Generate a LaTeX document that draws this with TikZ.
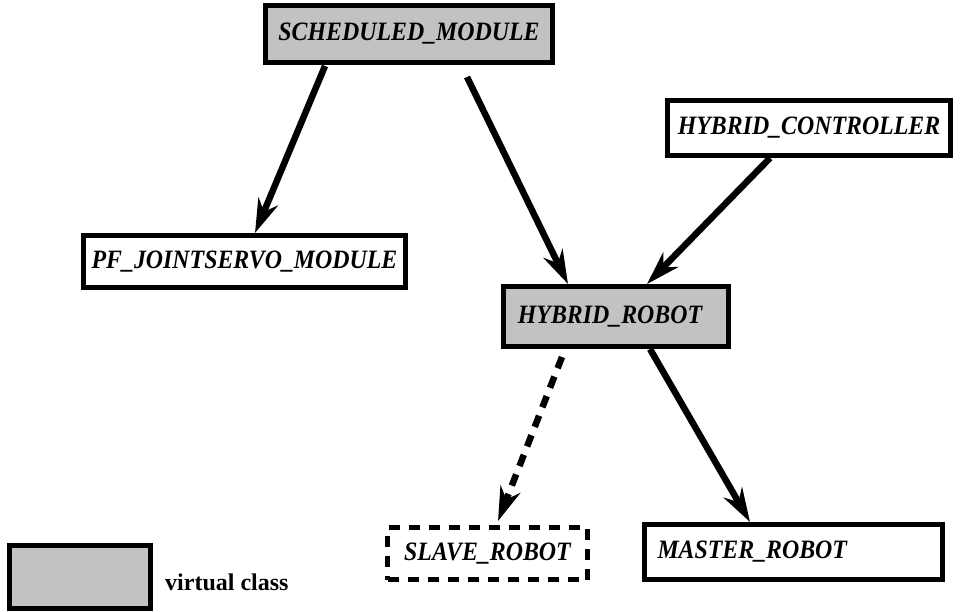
\documentclass[tikz,border=0pt]{standalone}
\usepackage{fontspec}
\setmainfont{Liberation Serif}
\newfontfamily\classfont[FakeStretch=0.9]{Liberation Serif}
\usetikzlibrary{arrows.meta}
\begin{document}
\begin{tikzpicture}[x=1pt,y=-1pt,
  classbox/.style={draw=black, line width=5pt, inner sep=0pt, fill=white,
    font=\classfont\fontsize{26.5}{26.5}\selectfont\bfseries\itshape},
  virtualbox/.style={classbox, fill=black!24},
  dashedbox/.style={classbox, dash pattern=on 11pt off 9pt},
  inherit/.style={line width=6.5pt,
    -{Stealth[length=34pt,width=21pt,inset=11pt]}},
  inheritdashed/.style={inherit, dash pattern=on 12pt off 9pt}]
\useasboundingbox (0,0) rectangle (961,611);

% classes
\node[virtualbox, minimum width=287pt, minimum height=57pt] (sched) at (409,34) {SCHEDULED\_MODULE};
\node[classbox, minimum width=322pt, minimum height=52pt] (pf) at (244.5,261.5) {PF\_JOINTSERVO\_MODULE};
\node[classbox, minimum width=283pt, minimum height=55pt] (hctrl) at (809,128) {HYBRID\_CONTROLLER};
\node[virtualbox, minimum width=225pt, minimum height=60pt] (hrobot) at (616,316.5) {HYBRID\_ROBOT\hspace*{12pt}};
\node[dashedbox, minimum width=200pt, minimum height=52pt] (slave) at (487.5,553.5) {SLAVE\_ROBOT};
\node[classbox, minimum height=55pt, inner xsep=13pt, text width=272pt, align=left] (master) at (793.5,552) {MASTER\_ROBOT};

% inheritance arrows
\draw[inherit] ([xshift=-84pt,yshift=-1pt]sched.south) -- ([xshift=10.5pt]pf.north);
\draw[inherit] ([xshift=58pt,yshift=-12pt]sched.south) -- ([xshift=-48pt]hrobot.north);
\draw[inherit] ([xshift=-39pt]hctrl.south) -- ([xshift=31pt]hrobot.north);
\draw[inheritdashed] ([xshift=-54pt,yshift=-8pt]hrobot.south) -- ([xshift=10.5pt,yshift=4pt]slave.north);
\draw[inherit] ([xshift=34pt]hrobot.south) -- ([xshift=-43.5pt]master.north);

% legend
\node[virtualbox, minimum width=141pt, minimum height=63pt] (legend) at (80,577) {};
\node[anchor=west, inner sep=0pt, font=\fontsize{24}{24}\selectfont\bfseries] (legendtext) at (165,582) {virtual class};
\end{tikzpicture}
\end{document}
